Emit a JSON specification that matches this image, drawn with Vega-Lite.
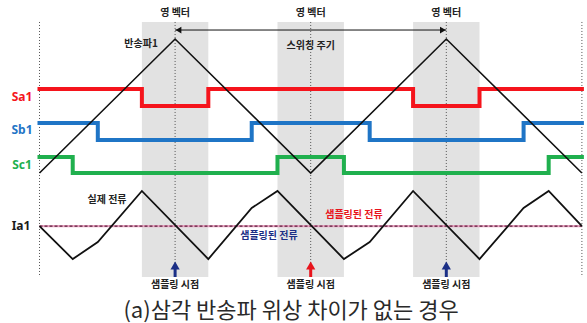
{
  "$schema": "https://vega.github.io/schema/vega-lite/v6.json",
  "width": 587,
  "height": 323,
  "autosize": "none",
  "padding": 0,
  "background": "white",
  "config": {
    "view": {"stroke": null},
    "font": "Noto Sans CJK KR"
  },
  "datasets": {
    "carrier": [
      {"t": 0, "v": 0}, {"t": 1, "v": 1}, {"t": 2, "v": 0}, {"t": 3, "v": 1}, {"t": 4, "v": 0}
    ],
    "gates": [
      {"phase": "Sa1", "t": 0, "v": 0.627}, {"phase": "Sa1", "t": 0.755, "v": 0.5}, {"phase": "Sa1", "t": 1.245, "v": 0.627},
      {"phase": "Sa1", "t": 2.755, "v": 0.5}, {"phase": "Sa1", "t": 3.245, "v": 0.627}, {"phase": "Sa1", "t": 4, "v": 0.627},
      {"phase": "Sb1", "t": 0, "v": 0.373}, {"phase": "Sb1", "t": 0.43, "v": 0.246}, {"phase": "Sb1", "t": 1.565, "v": 0.373},
      {"phase": "Sb1", "t": 2.435, "v": 0.246}, {"phase": "Sb1", "t": 3.57, "v": 0.373}, {"phase": "Sb1", "t": 4, "v": 0.373},
      {"phase": "Sc1", "t": 0, "v": 0.119}, {"phase": "Sc1", "t": 0.245, "v": 0}, {"phase": "Sc1", "t": 1.755, "v": 0.119},
      {"phase": "Sc1", "t": 2.245, "v": 0}, {"phase": "Sc1", "t": 3.755, "v": 0.119}, {"phase": "Sc1", "t": 4, "v": 0.119}
    ],
    "current": [
      {"t": 0, "v": -0.396}, {"t": 0.245, "v": -0.642}, {"t": 0.43, "v": -0.515}, {"t": 0.755, "v": -0.134},
      {"t": 1.245, "v": -0.642}, {"t": 1.565, "v": -0.261}, {"t": 1.755, "v": -0.134}, {"t": 2.245, "v": -0.642},
      {"t": 2.435, "v": -0.515}, {"t": 2.755, "v": -0.134}, {"t": 3.245, "v": -0.642}, {"t": 3.57, "v": -0.261},
      {"t": 3.755, "v": -0.134}, {"t": 4, "v": -0.396}
    ],
    "zeroVector": [
      {"t0": 0.755, "t1": 1.245}, {"t0": 1.755, "t1": 2.245}, {"t0": 2.755, "t1": 3.245}
    ],
    "markers": [{"t": 0}, {"t": 1}, {"t": 2}, {"t": 3}, {"t": 4}],
    "sampling": [
      {"t": 1, "edge": "peak"}, {"t": 2, "edge": "valley"}, {"t": 3, "edge": "peak"}
    ],
    "period": [
      {"t0": 1, "t1": 3}
    ],
    "notes": [
      {"t": 1, "v": 1.196, "text": "영 벡터"},
      {"t": 2, "v": 1.196, "text": "영 벡터"},
      {"t": 3, "v": 1.196, "text": "영 벡터"},
      {"t": 2, "v": 0.948, "text": "스위칭 주기"},
      {"t": 0.749, "v": 0.963, "text": "반송파1"},
      {"t": 0.498, "v": -0.201, "text": "실제 전류"},
      {"t": 1, "v": -0.836, "text": "샘플링 시점"},
      {"t": 2, "v": -0.836, "text": "샘플링 시점"},
      {"t": 3, "v": -0.836, "text": "샘플링 시점"}
    ],
    "rowLabels": [
      {"t": -0.129, "v": 0.567, "name": "Sa1"},
      {"t": -0.129, "v": 0.321, "name": "Sb1"},
      {"t": -0.129, "v": 0.06, "name": "Sc1"},
      {"t": -0.136, "v": -0.396, "name": "Ia1"}
    ],
    "sampled": [
      {"t": 1.692, "v": -0.468, "edge": "peak", "text": "샘플링된 전류"},
      {"t": 2.319, "v": -0.313, "edge": "valley", "text": "샘플링된 전류"}
    ],
    "caption": [
      {"t": 1.855, "v": -1.03, "text": "(a)삼각 반송파 위상 차이가 없는 경우"}
    ]
  },
  "layer": [
    {
      "data": {"name": "zeroVector"},
      "mark": {"type": "rect", "color": "#e2e2e2"},
      "encoding": {
        "x": {"field": "t0", "type": "quantitative", "axis": null,
          "scale": {"domain": [-0.2913, 4.0376], "nice": false, "zero": false}},
        "x2": {"field": "t1"},
        "y": {"datum": 1.127, "type": "quantitative", "axis": null,
          "scale": {"domain": [-1.119, 1.291], "nice": false, "zero": false}},
        "y2": {"datum": -0.776}
      }
    },
    {
      "data": {"name": "markers"},
      "mark": {"type": "rule", "color": "#555555", "strokeWidth": 1, "strokeDash": [1, 2]},
      "encoding": {
        "x": {"field": "t", "type": "quantitative"},
        "y": {"datum": 1.127, "type": "quantitative"},
        "y2": {"datum": -0.776}
      }
    },
    {
      "data": {"name": "gates"},
      "mark": {"type": "line", "interpolate": "step-after", "strokeWidth": 4, "strokeCap": "square"},
      "encoding": {
        "x": {"field": "t", "type": "quantitative"},
        "y": {"field": "v", "type": "quantitative"},
        "color": {"field": "phase", "type": "nominal", "legend": null,
          "scale": {"domain": ["Sa1", "Sb1", "Sc1", "Ia1"], "range": ["#f5141c", "#1f75c6", "#20b04e", "#1a1a1a"]}}
      }
    },
    {
      "data": {"name": "carrier"},
      "mark": {"type": "line", "color": "#111111", "strokeWidth": 1.6},
      "encoding": {
        "x": {"field": "t", "type": "quantitative"},
        "y": {"field": "v", "type": "quantitative"}
      }
    },
    {
      "data": {"name": "period"},
      "mark": {"type": "rule", "color": "#e8a4c2", "strokeWidth": 2.2},
      "encoding": {
        "x": {"datum": 0, "type": "quantitative"},
        "x2": {"datum": 4},
        "y": {"datum": -0.396, "type": "quantitative"}
      }
    },
    {
      "data": {"name": "period"},
      "mark": {"type": "rule", "color": "#5a1c3a", "strokeWidth": 1.2, "strokeDash": [3, 2]},
      "encoding": {
        "x": {"datum": 0, "type": "quantitative"},
        "x2": {"datum": 4},
        "y": {"datum": -0.396, "type": "quantitative"}
      }
    },
    {
      "data": {"name": "current"},
      "mark": {"type": "line", "color": "#111111", "strokeWidth": 1.8},
      "encoding": {
        "x": {"field": "t", "type": "quantitative"},
        "y": {"field": "v", "type": "quantitative"}
      }
    },
    {
      "data": {"name": "period"},
      "mark": {"type": "rule", "color": "#111111", "strokeWidth": 1},
      "encoding": {
        "x": {"field": "t0", "type": "quantitative"},
        "x2": {"field": "t1"},
        "y": {"datum": 1.067, "type": "quantitative"}
      }
    },
    {
      "data": {"name": "period"},
      "mark": {"type": "point", "filled": true, "color": "#111111", "size": 45, "opacity": 1, "shape": "triangle-left"},
      "encoding": {
        "x": {"datum": 1.025, "type": "quantitative"},
        "y": {"datum": 1.067, "type": "quantitative"}
      }
    },
    {
      "data": {"name": "period"},
      "mark": {"type": "point", "filled": true, "color": "#111111", "size": 45, "opacity": 1, "shape": "triangle-right"},
      "encoding": {
        "x": {"datum": 2.975, "type": "quantitative"},
        "y": {"datum": 1.067, "type": "quantitative"}
      }
    },
    {
      "data": {"name": "sampling"},
      "mark": {"type": "rule", "strokeWidth": 3},
      "encoding": {
        "x": {"field": "t", "type": "quantitative"},
        "y": {"datum": -0.776, "type": "quantitative"},
        "y2": {"datum": -0.7},
        "stroke": {"field": "edge", "type": "nominal", "legend": null,
          "scale": {"domain": ["peak", "valley"], "range": ["#1b2f86", "#e8141c"]}}
      }
    },
    {
      "data": {"name": "sampling"},
      "mark": {"type": "point", "filled": true, "size": 85, "opacity": 1, "shape": "triangle-up"},
      "encoding": {
        "x": {"field": "t", "type": "quantitative"},
        "y": {"datum": -0.69, "type": "quantitative"},
        "fill": {"field": "edge", "type": "nominal", "legend": null,
          "scale": {"domain": ["peak", "valley"], "range": ["#1b2f86", "#e8141c"]}}
      }
    },
    {
      "data": {"name": "notes"},
      "mark": {"type": "text", "fontSize": 10, "fontWeight": "bold", "color": "#222222", "align": "center", "baseline": "middle"},
      "encoding": {
        "x": {"field": "t", "type": "quantitative"},
        "y": {"field": "v", "type": "quantitative"},
        "text": {"field": "text"}
      }
    },
    {
      "data": {"name": "rowLabels"},
      "mark": {"type": "text", "fontSize": 12, "fontWeight": "bold", "align": "center", "baseline": "middle", "font": "Noto Sans"},
      "encoding": {
        "x": {"field": "t", "type": "quantitative"},
        "y": {"field": "v", "type": "quantitative"},
        "text": {"field": "name"},
        "color": {"field": "name", "type": "nominal", "legend": null,
          "scale": {"domain": ["Sa1", "Sb1", "Sc1", "Ia1"], "range": ["#f5141c", "#1f75c6", "#20b04e", "#1a1a1a"]}}
      }
    },
    {
      "data": {"name": "sampled"},
      "mark": {"type": "text", "fontSize": 10, "fontWeight": "bold", "align": "center", "baseline": "middle"},
      "encoding": {
        "x": {"field": "t", "type": "quantitative"},
        "y": {"field": "v", "type": "quantitative"},
        "text": {"field": "text"},
        "fill": {"field": "edge", "type": "nominal", "legend": null,
          "scale": {"domain": ["peak", "valley"], "range": ["#2a3f8f", "#c8202a"]}}
      }
    },
    {
      "data": {"name": "caption"},
      "mark": {"type": "text", "fontSize": 22, "fontWeight": "normal", "color": "#2a2a2a", "align": "center", "baseline": "middle"},
      "encoding": {
        "x": {"field": "t", "type": "quantitative"},
        "y": {"field": "v", "type": "quantitative"},
        "text": {"field": "text"}
      }
    }
  ]
}
